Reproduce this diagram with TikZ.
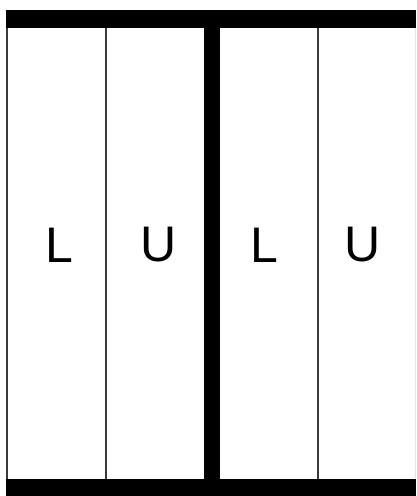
\documentclass[tikz,border=0pt]{standalone}
\usepackage{fontspec}
\setmainfont{Liberation Sans}
\usetikzlibrary{positioning}
\definecolor{ink}{HTML}{000000}
\definecolor{rail}{HTML}{3A3A3A}
\definecolor{edge}{HTML}{E4E4E4}

\begin{document}
\begin{tikzpicture}[x=1pt,y=-1pt]
    \tikzset{
      bar/.style={fill=ink,draw=none},
      panel/.style={draw=rail,line width=1.5pt},
      tag/.style={font=\fontsize{50}{50}\selectfont,inner sep=0pt,text=ink}
    }
    \useasboundingbox (0,0) rectangle (416,496);
    \fill[white] (0,0) rectangle (416,496);
    % top and bottom rails
    \fill[bar] (6,10) rectangle (416,28);
    \fill[bar] (6,479) rectangle (416,496);
    % middle post
    \fill[bar] (204,28) rectangle (220,479);
    % panel edges
    \foreach \x in {7,106,318}
      \draw[panel] (\x,28) -- (\x,479);
    \draw[edge,line width=1pt] (415,28) -- (415,479);
    \foreach \x/\lab/\name in {59/L/lowA,159/U/upA,264/L/lowB,363/U/upB} {
      \node[tag] (\name) at (\x,245) {\lab};
    }
  \end{tikzpicture}
\end{document}
